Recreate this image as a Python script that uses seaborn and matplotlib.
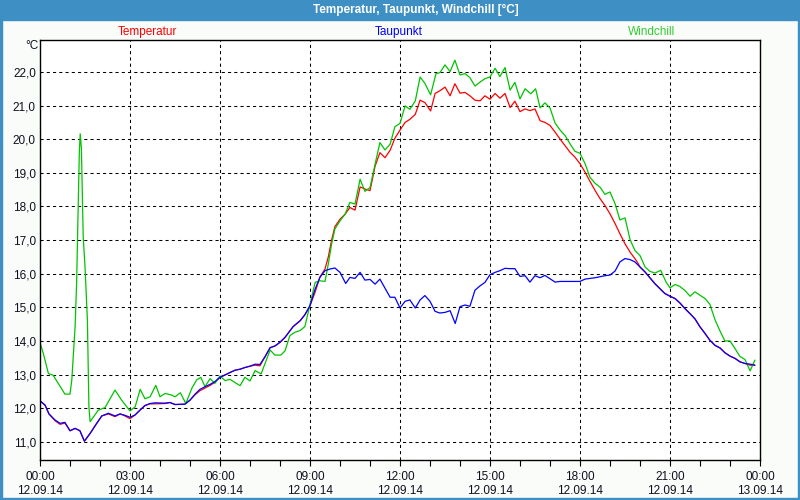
import matplotlib
matplotlib.use('Agg')
import matplotlib.pyplot as plt
from matplotlib.patches import Rectangle
import pandas as pd
import seaborn as sns

# hours since 12.09.14 00:00 and values in degC
temp_hours = [0.0, 0.17, 0.3, 0.5, 0.67, 0.83, 1.0, 1.17, 1.33, 1.48, 1.67, 1.89, 2.06, 2.28, 2.5, 2.67,
              2.83, 3.0, 3.17, 3.33, 3.5, 3.67, 3.83, 4.17, 4.33, 4.5, 4.83, 5.0, 5.17, 5.33, 5.5, 5.67,
              5.83, 6.0, 6.17, 6.33, 6.5, 6.67, 6.83, 7.0, 7.17, 7.33, 7.5, 7.67, 7.83, 8.0, 8.17, 8.44,
              8.67, 8.83, 9.0, 9.17, 9.33, 9.5, 9.61, 9.72, 9.83, 10.0, 10.17, 10.33, 10.5, 10.67, 10.83,
              11.0, 11.17, 11.33, 11.5, 11.67, 11.83, 12.0, 12.17, 12.33, 12.51, 12.67, 12.83, 13.02,
              13.17, 13.33, 13.5, 13.67, 13.83, 14.0, 14.17, 14.33, 14.5, 14.67, 14.83, 15.0, 15.17,
              15.33, 15.5, 15.67, 15.83, 16.0, 16.17, 16.33, 16.5, 16.67, 16.83, 17.0, 17.17, 17.33,
              17.5, 17.67, 17.83, 18.0, 18.17, 18.33, 18.5, 18.67, 18.83, 19.0, 19.17, 19.33, 19.5,
              19.67, 19.83, 19.94, 20.0, 20.17, 20.33, 20.5, 20.67, 20.83, 21.0, 21.17, 21.33, 21.5,
              21.67, 21.83, 22.0, 22.17, 22.33, 22.5, 22.67, 22.83, 23.0, 23.17, 23.33, 23.5, 23.67, 23.83]
temp_values = [12.22, 12.09, 11.83, 11.63, 11.52, 11.56, 11.33, 11.40, 11.33, 11.02, 11.25, 11.55, 11.77,
               11.83, 11.75, 11.83, 11.77, 11.69, 11.80, 11.94, 12.08, 12.13, 12.13, 12.14, 12.17, 12.11,
               12.12, 12.24, 12.40, 12.52, 12.60, 12.68, 12.77, 12.92, 12.99, 13.06, 13.13, 13.16, 13.21,
               13.25, 13.28, 13.26, 13.53, 13.80, 13.85, 13.96, 14.11, 14.43, 14.60, 14.78, 15.05, 15.45,
               15.90, 16.14, 16.50, 17.00, 17.40, 17.62, 17.77, 17.97, 17.89, 18.58, 18.52, 18.47, 19.20,
               19.60, 19.45, 19.67, 20.03, 20.27, 20.50, 20.59, 20.74, 21.16, 21.09, 20.84, 21.36, 21.44,
               21.55, 21.29, 21.65, 21.37, 21.39, 21.29, 21.16, 21.14, 21.29, 21.19, 21.36, 21.22, 21.36,
               20.94, 21.13, 20.82, 20.90, 20.85, 20.90, 20.55, 20.50, 20.41, 20.21, 20.01, 19.81, 19.61,
               19.47, 19.27, 19.02, 18.75, 18.48, 18.23, 18.03, 17.78, 17.49, 17.19, 16.89, 16.64, 16.45,
               16.30, 16.20, 16.05, 15.88, 15.70, 15.55, 15.41, 15.33, 15.26, 15.13, 14.96, 14.81, 14.66,
               14.42, 14.22, 14.02, 13.87, 13.79, 13.65, 13.55, 13.48, 13.38, 13.33, 13.28, 13.28]

dew_hours = [0.0, 0.17, 0.3, 0.5, 0.67, 0.83, 1.0, 1.17, 1.33, 1.48, 1.67, 1.89, 2.06, 2.28, 2.5, 2.67,
             2.83, 3.0, 3.17, 3.33, 3.5, 3.67, 3.83, 4.17, 4.33, 4.5, 4.83, 5.0, 5.17, 5.33, 5.5, 5.67,
             5.83, 6.0, 6.17, 6.33, 6.5, 6.67, 6.83, 7.0, 7.17, 7.33, 7.5, 7.67, 7.83, 8.0, 8.17, 8.44,
             8.67, 8.83, 9.0, 9.17, 9.33, 9.5, 9.67, 9.83, 10.0, 10.19, 10.33, 10.5, 10.67, 10.83, 11.0,
             11.17, 11.33, 11.5, 11.67, 11.83, 12.0, 12.17, 12.33, 12.51, 12.67, 12.83, 13.0, 13.17,
             13.33, 13.5, 13.67, 13.84, 14.0, 14.17, 14.33, 14.5, 14.67, 14.83, 15.0, 15.17, 15.33, 15.5,
             15.67, 15.83, 16.0, 16.17, 16.33, 16.5, 16.67, 16.83, 17.0, 17.17, 17.33, 18.0, 18.17, 18.5,
             18.83, 19.0, 19.17, 19.33, 19.5, 19.67, 19.83, 20.0, 20.17, 20.33, 20.5, 20.67, 20.83, 21.0,
             21.17, 21.33, 21.5, 21.67, 21.83, 22.0, 22.17, 22.33, 22.5, 22.67, 22.83, 23.0, 23.17,
             23.33, 23.5, 23.67, 23.83]
dew_values = [12.22, 12.09, 11.83, 11.65, 11.55, 11.58, 11.33, 11.40, 11.33, 11.02, 11.25, 11.55, 11.77,
              11.85, 11.77, 11.83, 11.79, 11.73, 11.80, 11.94, 12.08, 12.14, 12.16, 12.15, 12.17, 12.11,
              12.12, 12.24, 12.42, 12.56, 12.64, 12.71, 12.79, 12.92, 12.99, 13.06, 13.13, 13.16, 13.21,
              13.25, 13.31, 13.30, 13.53, 13.80, 13.85, 13.96, 14.11, 14.43, 14.60, 14.78, 15.05, 15.54,
              15.89, 16.09, 16.14, 16.17, 16.04, 15.71, 15.89, 15.86, 16.04, 15.81, 15.83, 15.69, 15.84,
              15.57, 15.30, 15.30, 14.98, 15.18, 15.22, 14.98, 15.22, 15.35, 15.18, 14.88, 14.83, 14.85,
              14.90, 14.52, 15.02, 15.07, 15.03, 15.51, 15.64, 15.74, 15.97, 16.04, 16.09, 16.16, 16.15,
              16.15, 15.92, 15.94, 15.75, 15.94, 15.88, 15.95, 15.85, 15.75, 15.77, 15.77, 15.84, 15.88,
              15.94, 15.96, 16.08, 16.35, 16.45, 16.42, 16.35, 16.20, 16.05, 15.88, 15.70, 15.55, 15.41,
              15.33, 15.26, 15.13, 14.96, 14.81, 14.66, 14.42, 14.22, 14.02, 13.87, 13.79, 13.65, 13.55,
              13.48, 13.38, 13.33, 13.31, 13.28]

chill_hours = [0.0, 0.11, 0.28, 0.44, 0.83, 1.0, 1.06, 1.17, 1.22, 1.28, 1.31, 1.34, 1.38, 1.44, 1.5,
               1.58, 1.63, 1.67, 1.94, 2.17, 2.5, 2.72, 3.0, 3.17, 3.34, 3.5, 3.67, 3.86, 4.0, 4.17, 4.39,
               4.5, 4.68, 4.86, 5.06, 5.22, 5.36, 5.5, 5.67, 5.83, 6.0, 6.17, 6.33, 6.67, 6.83, 7.0, 7.17,
               7.37, 7.67, 7.83, 8.03, 8.17, 8.33, 8.5, 8.67, 8.83, 9.0, 9.17, 9.33, 9.5, 9.61, 9.72, 9.83,
               10.0, 10.17, 10.33, 10.5, 10.67, 10.83, 11.0, 11.17, 11.33, 11.5, 11.67, 11.83, 12.0, 12.17,
               12.33, 12.51, 12.67, 12.83, 13.02, 13.2, 13.33, 13.5, 13.67, 13.83, 14.0, 14.17, 14.33,
               14.5, 14.67, 14.83, 15.0, 15.17, 15.33, 15.5, 15.67, 15.83, 16.0, 16.17, 16.36, 16.52,
               16.67, 16.83, 17.0, 17.17, 17.33, 17.5, 17.67, 17.83, 18.0, 18.17, 18.33, 18.5, 18.67,
               18.83, 19.0, 19.17, 19.33, 19.5, 19.67, 19.83, 20.0, 20.17, 20.33, 20.5, 20.69, 20.87,
               21.0, 21.17, 21.33, 21.5, 21.67, 21.83, 22.0, 22.17, 22.33, 22.5, 22.67, 22.83, 23.0,
               23.17, 23.33, 23.5, 23.67, 23.83]
chill_values = [13.95, 13.63, 13.03, 12.98, 12.42, 12.42, 12.84, 14.42, 15.71, 18.29, 19.58, 20.16, 19.73,
                17.10, 16.21, 14.62, 12.04, 11.60, 11.94, 12.02, 12.54, 12.24, 11.92, 12.04, 12.56, 12.28,
                12.34, 12.68, 12.34, 12.44, 12.39, 12.34, 12.46, 12.14, 12.59, 12.84, 12.92, 12.64, 12.88,
                12.74, 12.96, 12.82, 12.86, 12.67, 12.92, 12.81, 13.12, 13.02, 13.73, 13.58, 13.58, 13.71,
                14.16, 14.26, 14.31, 14.43, 15.08, 15.74, 15.79, 15.77, 16.29, 16.88, 17.33, 17.57, 17.77,
                18.12, 18.07, 18.81, 18.45, 18.56, 19.26, 19.90, 19.68, 19.85, 20.37, 20.47, 20.99, 20.89,
                21.14, 21.85, 21.66, 21.32, 21.95, 21.98, 22.21, 22.01, 22.35, 21.91, 21.95, 21.83, 21.58,
                21.70, 21.80, 21.85, 22.11, 21.86, 22.13, 21.46, 21.69, 21.20, 21.50, 21.35, 21.50, 20.93,
                21.08, 20.93, 20.48, 20.28, 20.11, 19.86, 19.64, 19.58, 19.27, 18.87, 18.69, 18.57, 18.36,
                18.43, 18.08, 17.60, 17.66, 17.01, 16.69, 16.54, 16.20, 16.07, 16.02, 16.10, 15.75, 15.58,
                15.68, 15.62, 15.50, 15.33, 15.46, 15.36, 15.26, 15.09, 14.63, 14.29, 14.00, 14.00, 13.77,
                13.54, 13.45, 13.11, 13.43]

series_names = ['Temperatur', 'Taupunkt', 'Windchill']
y_ticks = [11, 12, 13, 14, 15, 16, 17, 18, 19, 20, 21, 22]
x_ticks = [0, 3, 6, 9, 12, 15, 18, 21, 24]
x_labels = ['00:00\n12.09.14', '03:00\n12.09.14', '06:00\n12.09.14', '09:00\n12.09.14',
            '12:00\n12.09.14', '15:00\n12.09.14', '18:00\n12.09.14', '21:00\n12.09.14',
            '00:00\n13.09.14']

sns.set_style('white')
plt.rcParams['font.family'] = ['Liberation Sans', 'DejaVu Sans']
plt.rcParams['font.size'] = 8.5

frame_blue = '#3d8fc4'
line_colors = ['#ff0000', '#0000ff', '#00c400']
label_colors = ['#ff0000', '#0000ff', '#33cc33']
text_color = '#101020'

fig = plt.figure(figsize=(8, 5), dpi=100, facecolor='#f9fcf9')
ax = fig.add_axes([0.05, 0.08, 0.9, 0.84])
ax.set_facecolor('white')

# window title bar and border
fig.add_artist(Rectangle((0, 1 - 20 / 500), 1, 20 / 500, transform=fig.transFigure,
                         color=frame_blue, zorder=0))
fig.add_artist(Rectangle((0, 0), 2 / 800, 1, transform=fig.transFigure, color=frame_blue))
fig.add_artist(Rectangle((1 - 2 / 800, 0), 2 / 800, 1, transform=fig.transFigure, color=frame_blue))
fig.add_artist(Rectangle((0, 0), 1, 2 / 500, transform=fig.transFigure, color=frame_blue))
fig.text(416 / 800, 1 - 10 / 500, 'Temperatur, Taupunkt, Windchill [°C]', ha='center', va='center',
         color='white', fontweight='bold', fontsize=8.5)

series = [(temp_hours, temp_values), (chill_hours, chill_values), (dew_hours, dew_values)]
colors = [line_colors[0], line_colors[2], line_colors[1]]
for (hours, values), color in zip(series, colors):
    df = pd.DataFrame({'hour': hours, 'value': values})
    sns.lineplot(data=df, x='hour', y='value', color=color, lw=0.9, estimator=None, sort=False, ax=ax)

for name, color, xpos in zip(series_names, label_colors, [147, 399, 652]):
    fig.text(xpos / 800, 1 - 32 / 500, name, color=color, ha='center', va='center', fontsize=8.5)
fig.text(38 / 800, 1 - 46 / 500, '°C', ha='right', va='center', fontsize=8.5, color=text_color)

ax.set_xlim(0, 24)
ax.set_ylim(10.46, 22.95)
ax.set_xticks(x_ticks)
ax.set_xticklabels(x_labels, linespacing=1.25, color=text_color)
ax.set_xticks(range(25), minor=True)
ax.set_yticks(y_ticks)
ax.set_yticklabels([f'{v:.1f}'.replace('.', ',') for v in y_ticks], color=text_color)
ax.tick_params(axis='x', which='both', direction='out', length=4, width=0.8, color='black',
               bottom=True, pad=4)
ax.tick_params(axis='y', length=0, pad=3)
ax.set_xlabel('')
ax.set_ylabel('')

ax.set_axisbelow(True)
ax.grid(True, color='black', linestyle=(0, (3, 3)), lw=0.75)
for spine in ax.spines.values():
    spine.set_color('black')
    spine.set_linewidth(1.0)

fig.savefig('out.png', dpi=100, facecolor=fig.get_facecolor())
